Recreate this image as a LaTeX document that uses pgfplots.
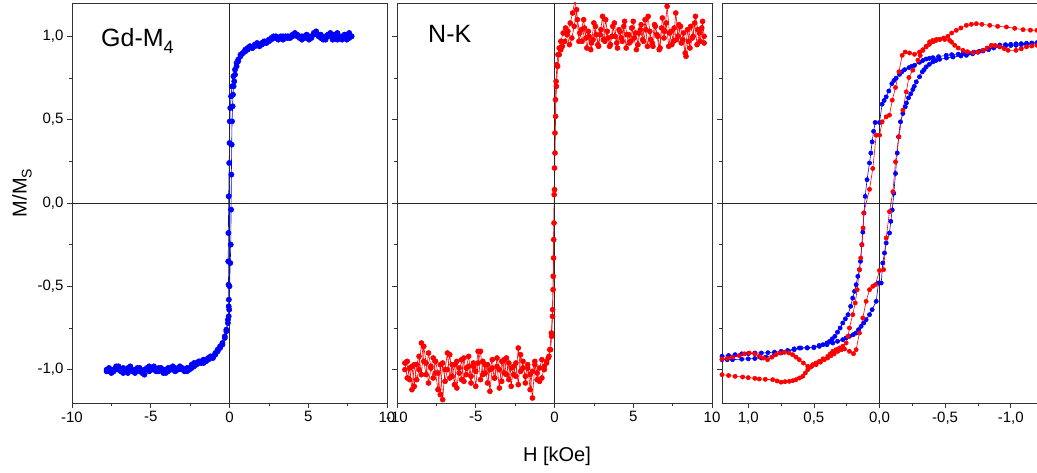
\documentclass[border=0pt]{standalone}
\usepackage{fontspec}
\setmainfont{Liberation Sans}
\usepackage{pgfplots}
\pgfplotsset{compat=1.18}
\definecolor{pblue}{RGB}{0,0,255}
\definecolor{pred}{RGB}{255,0,0}
\begin{document}
\begin{tikzpicture}
\useasboundingbox (0pt,0pt) rectangle (1037pt,473pt);
\pgfplotsset{
  panel/.style={
    scale only axis, width=315pt, height=400pt, anchor=south west,
    ymin=-1.2, ymax=1.2,
    axis line style={draw=black!80, line width=0.8pt},
    every tick/.style={draw=black!80, line width=0.6pt},
    tick align=outside, xtick pos=bottom, ytick pos=left,
    major tick length=5pt, minor tick length=3pt,
    ytick={-1,-0.5,0,0.5,1}, minor y tick num=1, minor x tick num=1,
    yticklabels={},
    tick label style={font=\fontsize{15}{17}\selectfont},
    clip=true,
  },
  bluep/.style={color=pblue, line width=0.6pt, mark=*, mark size=2.6pt, mark options={solid, fill=pblue, draw=pblue}},
  redp/.style={color=pred, line width=0.6pt, mark=*, mark size=2.5pt, mark options={solid, fill=pred, draw=pred}},
  blues/.style={color=pblue, line width=0.6pt, mark=*, mark size=2.1pt, mark options={solid, fill=pblue, draw=pblue}},
  reds/.style={color=pred, line width=0.6pt, mark=*, mark size=2.1pt, mark options={solid, fill=pred, draw=pred}},
}
% ---------------- Panel 1: Gd-M4
\begin{axis}[panel, at={(72pt,70pt)}, xmin=-10, xmax=10,
  xtick={-10,-5,0,5,10}, xticklabels={-10,-5,0,5,10},
  yticklabels={{-1,0},{-0,5},{0,0},{0,5},{1,0}}]
\addplot[bluep] coordinates {
(-7.8,-1.00) (-7.65,-1.01) (-7.5,-1.02) (-7.35,-1.00) (-7.2,-0.99) (-7.05,-0.98) (-6.9,-1.00) (-6.75,-1.02) (-6.6,-1.01) (-6.45,-0.99) (-6.3,-0.98) (-6.15,-1.00) (-6.0,-1.02) (-5.85,-1.00) (-5.7,-0.99) (-5.55,-1.01) (-5.4,-1.03) (-5.25,-1.00) (-5.1,-0.98) (-4.95,-0.99) (-4.8,-1.00) (-4.65,-1.01) (-4.5,-0.99) (-4.35,-1.00) (-4.2,-1.02) (-4.05,-1.00) (-3.9,-0.99) (-3.75,-1.00) (-3.6,-0.98) (-3.45,-0.99) (-3.3,-1.00) (-3.15,-0.99) (-3.0,-1.00) (-2.85,-1.00) (-2.7,-1.01) (-2.55,-0.99) (-2.4,-0.97) (-2.25,-0.96) (-2.1,-0.97) (-1.95,-0.95) (-1.8,-0.96) (-1.65,-0.94) (-1.5,-0.95) (-1.35,-0.93) (-1.2,-0.92) (-1.05,-0.92) (-0.9,-0.90) (-0.75,-0.88) (-0.6,-0.86) (-0.45,-0.84) (-0.3,-0.80) (-0.2,-0.76) (-0.1,-0.70) (-0.05,-0.62) (0.0,-0.50) (0.05,-0.36) (0.08,-0.25) (0.1,-0.04) (0.12,0.17) (0.14,0.35) (0.16,0.49) (0.2,0.58) (0.22,0.65) (0.26,0.70) (0.3,0.73) (0.35,0.77) (0.45,0.82) (0.55,0.85) (0.7,0.88) (0.85,0.90) (1.0,0.92) (1.15,0.93) (1.3,0.94) (1.45,0.93) (1.6,0.94) (1.75,0.96) (1.9,0.95) (2.05,0.95) (2.2,0.96) (2.35,0.97) (2.5,0.98) (2.65,0.99) (2.8,1.00) (2.95,0.99) (3.1,0.98) (3.25,0.99) (3.4,1.00) (3.55,1.00) (3.7,0.99) (3.85,1.00) (4.0,1.01) (4.15,1.02) (4.3,1.01) (4.45,0.99) (4.6,1.00) (4.75,1.00) (4.9,0.99) (5.05,0.98) (5.2,1.00) (5.35,1.02) (5.5,1.03) (5.65,1.01) (5.8,0.99) (5.95,0.98) (6.1,1.00) (6.25,1.01) (6.4,1.00) (6.55,0.98) (6.7,1.01) (6.85,1.02) (7.0,1.00) (7.15,0.98) (7.3,0.99) (7.45,1.01) (7.6,1.02) (7.75,1.00)
};
\addplot[bluep] coordinates {
(7.75,1.00) (7.6,0.99) (7.45,0.98) (7.3,1.01) (7.15,1.00) (7.0,0.99) (6.85,0.98) (6.7,0.99) (6.55,1.01) (6.4,1.02) (6.25,1.00) (6.1,0.98) (5.95,0.99) (5.8,1.01) (5.65,1.00) (5.5,1.02) (5.35,1.01) (5.2,0.99) (5.05,1.00) (4.9,1.01) (4.75,0.99) (4.6,0.98) (4.45,1.00) (4.3,1.00) (4.15,1.01) (4.0,1.00) (3.85,0.99) (3.7,1.00) (3.55,0.99) (3.4,0.98) (3.25,1.00) (3.1,0.99) (2.95,1.00) (2.8,0.99) (2.65,0.98) (2.5,0.97) (2.35,0.96) (2.2,0.97) (2.05,0.96) (1.9,0.94) (1.75,0.95) (1.6,0.95) (1.45,0.93) (1.3,0.94) (1.15,0.92) (1.0,0.91) (0.85,0.90) (0.7,0.89) (0.55,0.86) (0.45,0.84) (0.35,0.80) (0.25,0.76) (0.15,0.70) (0.1,0.64) (0.05,0.57) (0.02,0.49) (0.0,0.36) (-0.02,0.24) (-0.05,0.04) (-0.07,-0.18) (-0.08,-0.35) (-0.06,-0.49) (-0.04,-0.58) (-0.02,-0.64) (-0.05,-0.68) (-0.1,-0.72) (-0.2,-0.77) (-0.3,-0.81) (-0.45,-0.85) (-0.6,-0.87) (-0.75,-0.89) (-0.9,-0.91) (-1.05,-0.93) (-1.2,-0.93) (-1.35,-0.94) (-1.5,-0.94) (-1.65,-0.96) (-1.8,-0.95) (-1.95,-0.96) (-2.1,-0.96) (-2.25,-0.98) (-2.4,-0.99) (-2.55,-1.00) (-2.7,-0.99) (-2.85,-1.01) (-3.0,-0.99) (-3.15,-0.98) (-3.3,-1.00) (-3.45,-1.01) (-3.6,-1.00) (-3.75,-0.99) (-3.9,-1.01) (-4.05,-1.02) (-4.2,-1.00) (-4.35,-0.99) (-4.5,-1.01) (-4.65,-1.00) (-4.8,-0.98) (-4.95,-1.00) (-5.1,-1.01) (-5.25,-0.99) (-5.4,-1.00) (-5.55,-1.02) (-5.7,-1.01) (-5.85,-0.99) (-6.0,-1.00) (-6.15,-1.01) (-6.3,-1.00) (-6.45,-1.02) (-6.6,-1.00) (-6.75,-0.99) (-6.9,-1.01) (-7.05,-1.00) (-7.2,-0.98) (-7.35,-1.01) (-7.5,-1.00) (-7.65,-0.99) (-7.8,-1.01)
};
\draw[black!85, line width=0.8pt] (rel axis cs:0,0.5) -- (rel axis cs:1,0.5);
\draw[black!85, line width=0.8pt] (rel axis cs:0.5,0) -- (rel axis cs:0.5,1);
\end{axis}
% ---------------- Panel 2: N-K
\begin{axis}[panel, at={(397pt,70pt)}, xmin=-10, xmax=10,
  xtick={-10,-5,0,5,10}, xticklabels={-10,-5,0,5,10}]
\addplot[redp] coordinates {
(-9.5,-1.00) (-9.35,-0.95) (-9.2,-1.06) (-9.05,-0.98) (-8.9,-1.10) (-8.75,-0.97) (-8.6,-0.92) (-8.45,-1.03) (-8.3,-0.86) (-8.15,-0.96) (-8.0,-1.08) (-7.85,-0.99) (-7.7,-0.93) (-7.55,-1.02) (-7.4,-1.12) (-7.25,-0.97) (-7.1,-1.18) (-6.95,-1.00) (-6.8,-0.90) (-6.65,-1.05) (-6.5,-0.97) (-6.35,-1.09) (-6.2,-0.95) (-6.05,-1.02) (-5.9,-0.94) (-5.75,-1.07) (-5.6,-0.99) (-5.45,-0.92) (-5.3,-1.04) (-5.15,-0.98) (-5.0,-1.10) (-4.85,-0.96) (-4.7,-0.89) (-4.55,-1.03) (-4.4,-0.97) (-4.25,-1.08) (-4.1,-1.00) (-3.95,-0.94) (-3.8,-1.05) (-3.65,-0.98) (-3.5,-1.11) (-3.35,-0.95) (-3.2,-1.02) (-3.05,-0.93) (-2.9,-1.06) (-2.75,-0.99) (-2.6,-1.03) (-2.45,-0.96) (-2.3,-1.09) (-2.15,-0.91) (-2.0,-0.99) (-1.85,-1.04) (-1.7,-0.97) (-1.55,-1.12) (-1.4,-1.01) (-1.25,-0.95) (-1.1,-1.06) (-0.95,-0.99) (-0.8,-0.94) (-0.65,-1.00) (-0.5,-0.96) (-0.4,-0.93) (-0.3,-0.88) (-0.2,-0.78) (-0.12,-0.64) (-0.08,-0.44) (-0.05,-0.22) (-0.02,0.05) (0.0,0.21) (0.03,0.42) (0.06,0.62) (0.1,0.73) (0.15,0.83) (0.22,0.89) (0.3,0.93) (0.4,0.97) (0.55,1.02) (0.7,1.05) (0.85,1.03) (1.0,1.08) (1.15,1.14) (1.3,1.22) (1.45,1.10) (1.6,1.02) (1.75,0.97) (1.9,1.05) (2.05,0.93) (2.2,1.00) (2.35,0.96) (2.5,1.08) (2.65,1.01) (2.8,0.94) (2.95,1.04) (3.1,0.98) (3.25,1.10) (3.4,0.99) (3.55,0.95) (3.7,1.06) (3.85,1.00) (4.0,0.93) (4.15,1.03) (4.3,0.97) (4.45,1.09) (4.6,1.01) (4.75,0.96) (4.9,1.05) (5.05,0.99) (5.2,0.92) (5.35,1.02) (5.5,1.07) (5.65,0.97) (5.8,1.04) (5.95,1.12) (6.1,0.98) (6.25,0.94) (6.4,1.06) (6.55,1.00) (6.7,0.93) (6.85,1.11) (7.0,1.03) (7.15,1.18) (7.3,1.02) (7.45,0.95) (7.6,1.05) (7.75,0.98) (7.9,1.07) (8.05,0.96) (8.2,1.02) (8.35,0.88) (8.5,0.97) (8.65,1.06) (8.8,1.00) (8.95,1.12) (9.1,1.04) (9.25,0.97) (9.4,1.09) (9.5,1.00)
};
\addplot[redp] coordinates {
(9.5,0.96) (9.35,1.05) (9.2,1.02) (9.05,0.95) (8.9,1.08) (8.75,0.99) (8.6,0.93) (8.45,1.04) (8.3,0.90) (8.15,0.98) (8.0,1.06) (7.85,1.00) (7.7,1.14) (7.55,0.97) (7.4,1.03) (7.25,0.94) (7.1,1.08) (6.95,0.99) (6.8,1.05) (6.65,0.92) (6.5,1.01) (6.35,1.07) (6.2,0.96) (6.05,1.03) (5.9,0.94) (5.75,1.10) (5.6,0.98) (5.45,1.04) (5.3,0.95) (5.15,1.02) (5.0,1.09) (4.85,0.97) (4.7,1.01) (4.55,0.93) (4.4,1.06) (4.25,0.99) (4.1,1.04) (3.95,0.96) (3.8,1.08) (3.65,1.00) (3.5,0.94) (3.35,1.03) (3.2,0.97) (3.05,1.12) (2.9,1.01) (2.75,0.95) (2.6,1.06) (2.45,0.98) (2.3,0.92) (2.15,1.03) (2.0,0.99) (1.85,1.10) (1.7,1.04) (1.55,0.97) (1.4,1.16) (1.25,1.06) (1.1,0.99) (0.95,0.95) (0.8,1.01) (0.65,0.97) (0.5,0.94) (0.4,0.92) (0.3,0.89) (0.2,0.82) (0.12,0.70) (0.07,0.52) (0.03,0.30) (0.0,0.08) (-0.03,-0.12) (-0.06,-0.33) (-0.09,-0.52) (-0.13,-0.68) (-0.18,-0.80) (-0.25,-0.88) (-0.35,-0.92) (-0.5,-0.95) (-0.65,-0.98) (-0.8,-1.05) (-0.95,-1.07) (-1.1,-1.02) (-1.25,-0.97) (-1.4,-1.17) (-1.55,-1.03) (-1.7,-0.99) (-1.85,-1.08) (-2.0,-0.95) (-2.15,-1.01) (-2.3,-0.87) (-2.45,-1.04) (-2.6,-0.98) (-2.75,-1.10) (-2.9,-0.96) (-3.05,-1.03) (-3.2,-0.94) (-3.35,-1.07) (-3.5,-1.00) (-3.65,-0.93) (-3.8,-1.05) (-3.95,-0.99) (-4.1,-1.13) (-4.25,-0.97) (-4.4,-1.02) (-4.55,-0.95) (-4.7,-1.06) (-4.85,-0.89) (-5.0,-1.01) (-5.15,-0.96) (-5.3,-1.08) (-5.45,-0.98) (-5.6,-1.03) (-5.75,-0.93) (-5.9,-1.06) (-6.05,-0.99) (-6.2,-1.11) (-6.35,-0.97) (-6.5,-1.04) (-6.65,-0.91) (-6.8,-1.00) (-6.95,-1.07) (-7.1,-0.96) (-7.25,-1.15) (-7.4,-1.02) (-7.55,-0.95) (-7.7,-1.05) (-7.85,-0.98) (-8.0,-0.90) (-8.15,-1.03) (-8.3,-0.95) (-8.45,-0.84) (-8.6,-1.00) (-8.75,-1.06) (-8.9,-0.97) (-9.05,-1.12) (-9.2,-0.99) (-9.35,-1.05) (-9.5,-0.96)
};
\draw[black!85, line width=0.8pt] (rel axis cs:0,0.5) -- (rel axis cs:1,0.5);
\draw[black!85, line width=0.8pt] (rel axis cs:0.5,0) -- (rel axis cs:0.5,1);
\end{axis}
% ---------------- Panel 3: loops
\begin{axis}[panel, at={(722pt,70pt)}, xmin=-1.2, xmax=1.2, x dir=reverse,
  xtick={-1,-0.5,0,0.5,1}, xticklabels={{-1,0},{-0,5},{0,0},{0,5},{1,0}}]
\addplot[blues] coordinates {
(1.2,-0.92) (1.15,-0.915) (1.1,-0.91) (1.05,-0.905) (1.0,-0.904) (0.95,-0.9) (0.9,-0.9) (0.85,-0.898) (0.8,-0.895) (0.75,-0.89) (0.7,-0.885) (0.65,-0.875) (0.6,-0.87) (0.55,-0.87) (0.5,-0.868) (0.46,-0.855) (0.43,-0.85) (0.40,-0.84) (0.38,-0.83) (0.36,-0.815) (0.34,-0.80) (0.32,-0.775) (0.30,-0.75) (0.28,-0.72) (0.26,-0.695) (0.24,-0.67) (0.22,-0.62) (0.204,-0.571) (0.19,-0.53) (0.178,-0.49) (0.165,-0.44) (0.153,-0.40) (0.145,-0.35) (0.135,-0.25) (0.127,-0.175) (0.118,-0.06) (0.109,0.04) (0.095,0.14) (0.076,0.24) (0.066,0.30) (0.056,0.367) (0.045,0.43) (0.033,0.483) (0.0,0.483) (-0.02,0.593) (-0.035,0.615) (-0.051,0.637) (-0.071,0.672) (-0.094,0.716) (-0.11,0.735) (-0.127,0.749) (-0.153,0.772) (-0.17,0.787) (-0.191,0.80) (-0.224,0.812) (-0.245,0.82) (-0.267,0.826) (-0.305,0.844) (-0.33,0.855) (-0.356,0.864) (-0.38,0.868) (-0.407,0.872) (-0.45,0.878) (-0.509,0.886) (-0.55,0.89) (-0.6,0.893) (-0.636,0.896) (-0.68,0.9) (-0.72,0.905) (-0.76,0.91) (-0.789,0.912) (-0.83,0.92) (-0.87,0.93) (-0.916,0.937) (-0.96,0.942) (-1.0,0.945) (-1.04,0.946) (-1.08,0.95) (-1.12,0.952) (-1.16,0.954) (-1.2,0.956)
};
\addplot[blues] coordinates {
(-1.2,0.962) (-1.16,0.96) (-1.12,0.958) (-1.08,0.956) (-1.04,0.955) (-1.0,0.952) (-0.96,0.95) (-0.916,0.948) (-0.87,0.935) (-0.83,0.925) (-0.789,0.916) (-0.75,0.905) (-0.71,0.895) (-0.662,0.886) (-0.62,0.882) (-0.56,0.876) (-0.51,0.87) (-0.458,0.862) (-0.43,0.855) (-0.407,0.847) (-0.38,0.832) (-0.356,0.817) (-0.34,0.80) (-0.326,0.787) (-0.305,0.757) (-0.28,0.727) (-0.265,0.70) (-0.254,0.681) (-0.238,0.655) (-0.221,0.631) (-0.205,0.60) (-0.196,0.577) (-0.178,0.537) (-0.160,0.487) (-0.145,0.397) (-0.135,0.30) (-0.122,0.177) (-0.109,0.058) (-0.097,-0.042) (-0.086,-0.11) (-0.076,-0.18) (-0.051,-0.24) (-0.038,-0.30) (-0.025,-0.36) (-0.013,-0.48) (0.008,-0.48) (0.025,-0.59) (0.056,-0.64) (0.076,-0.67) (0.102,-0.70) (0.12,-0.72) (0.14,-0.74) (0.16,-0.76) (0.178,-0.78) (0.2,-0.79) (0.229,-0.80) (0.255,-0.81) (0.28,-0.82) (0.32,-0.83) (0.356,-0.84) (0.40,-0.85) (0.458,-0.86) (0.5,-0.865) (0.55,-0.868) (0.611,-0.87) (0.65,-0.88) (0.7,-0.89) (0.75,-0.9) (0.8,-0.91) (0.865,-0.925) (0.9,-0.93) (0.95,-0.933) (1.0,-0.935) (1.05,-0.937) (1.12,-0.94) (1.16,-0.94) (1.2,-0.94)
};
\addplot[reds] coordinates {
(1.2,-1.03) (1.15,-1.035) (1.1,-1.04) (1.043,-1.044) (1.0,-1.048) (0.95,-1.052) (0.916,-1.056) (0.87,-1.058) (0.814,-1.06) (0.78,-1.068) (0.75,-1.075) (0.72,-1.072) (0.687,-1.07) (0.66,-1.066) (0.636,-1.06) (0.61,-1.05) (0.585,-1.04) (0.565,-1.02) (0.547,-1.0) (0.525,-0.985) (0.509,-0.97) (0.483,-0.96) (0.458,-0.95) (0.43,-0.935) (0.394,-0.92) (0.375,-0.905) (0.356,-0.89) (0.33,-0.88) (0.305,-0.87) (0.28,-0.86) (0.254,-0.84) (0.24,-0.80) (0.229,-0.75) (0.204,-0.67) (0.185,-0.60) (0.17,-0.52) (0.153,-0.40) (0.143,-0.33) (0.133,-0.25) (0.125,-0.15) (0.12,-0.06) (0.076,0.082) (0.051,0.207) (0.025,0.407) (0.0,0.407) (-0.02,0.487) (-0.051,0.517) (-0.076,0.527) (-0.097,0.617) (-0.122,0.693) (-0.148,0.787) (-0.173,0.886) (-0.196,0.906) (-0.229,0.90) (-0.267,0.892) (-0.305,0.906) (-0.33,0.92) (-0.356,0.937) (-0.38,0.952) (-0.407,0.967) (-0.43,0.975) (-0.458,0.981) (-0.49,0.99) (-0.521,1.0) (-0.55,1.02) (-0.585,1.036) (-0.62,1.05) (-0.662,1.066) (-0.70,1.072) (-0.738,1.076) (-0.78,1.072) (-0.84,1.066) (-0.9,1.06) (-0.967,1.056) (-1.03,1.048) (-1.094,1.04) (-1.15,1.037) (-1.2,1.036)
};
\addplot[reds] coordinates {
(-1.2,0.946) (-1.16,0.942) (-1.12,0.937) (-1.08,0.925) (-1.04,0.916) (-0.98,0.916) (-0.95,0.926) (-0.916,0.937) (-0.88,0.945) (-0.852,0.946) (-0.82,0.93) (-0.789,0.916) (-0.75,0.905) (-0.712,0.902) (-0.67,0.908) (-0.636,0.916) (-0.6,0.93) (-0.573,0.946) (-0.55,0.965) (-0.534,0.976) (-0.496,0.981) (-0.46,0.982) (-0.433,0.981) (-0.405,0.975) (-0.382,0.967) (-0.355,0.94) (-0.331,0.916) (-0.31,0.885) (-0.293,0.857) (-0.254,0.797) (-0.224,0.753) (-0.204,0.667) (-0.178,0.557) (-0.148,0.397) (-0.122,0.247) (-0.102,0.068) (-0.076,-0.052) (-0.051,-0.21) (-0.031,-0.40) (0.0,-0.405) (0.031,-0.49) (0.051,-0.50) (0.076,-0.52) (0.102,-0.59) (0.127,-0.69) (0.153,-0.78) (0.178,-0.88) (0.198,-0.904) (0.229,-0.89) (0.267,-0.876) (0.29,-0.88) (0.318,-0.89) (0.345,-0.905) (0.369,-0.916) (0.395,-0.93) (0.42,-0.94) (0.45,-0.955) (0.483,-0.97) (0.515,-0.978) (0.547,-0.98) (0.58,-0.96) (0.611,-0.94) (0.636,-0.925) (0.662,-0.91) (0.69,-0.9) (0.725,-0.896) (0.76,-0.9) (0.789,-0.91) (0.82,-0.925) (0.853,-0.94) (0.885,-0.93) (0.916,-0.92) (0.95,-0.905) (0.992,-0.90) (1.03,-0.905) (1.069,-0.916) (1.12,-0.925) (1.16,-0.932) (1.2,-0.936)
};
\draw[black!85, line width=0.8pt] (rel axis cs:0,0.5) -- (rel axis cs:1,0.5);
\draw[black!85, line width=0.8pt] (rel axis cs:0.5,0) -- (rel axis cs:0.5,1);
\end{axis}
% ---------------- labels
\node[anchor=base west, font=\fontsize{25}{28}\selectfont, inner sep=0pt] at (101pt,426pt) {Gd-M\raisebox{-7pt}{\fontsize{18}{20}\selectfont 4}};
\node[anchor=base west, font=\fontsize{25}{28}\selectfont, inner sep=0pt] at (428pt,430pt) {N-K};
\node[rotate=90, font=\fontsize{20}{22}\selectfont, inner sep=0pt] at (22pt,280pt) {M/M\raisebox{-5pt}{\fontsize{14}{16}\selectfont S}};
\node[font=\fontsize{20}{22}\selectfont, inner sep=0pt] at (557pt,17pt) {H [kOe]};
\end{tikzpicture}
\end{document}
